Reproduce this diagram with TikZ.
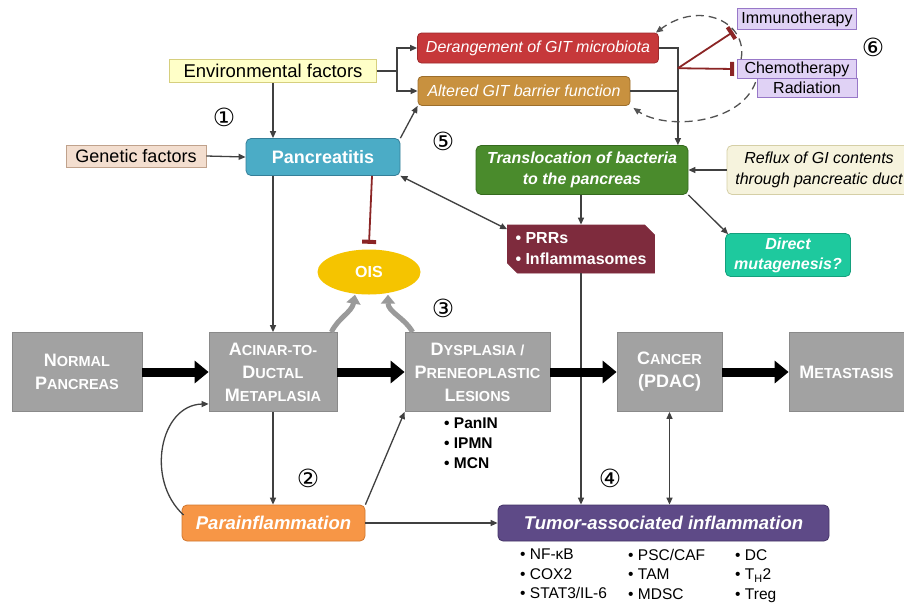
\documentclass[tikz,border=0pt]{standalone}
\usepackage{fontspec}
\setmainfont{Liberation Sans}
\newfontfamily\circfont{DejaVu Sans}
\usetikzlibrary{arrows.meta,shapes.misc,shapes.geometric,calc}

\definecolor{envfill}{HTML}{FFFFC8}
\definecolor{envedge}{HTML}{D6CF7E}
\definecolor{genfill}{HTML}{F3DECF}
\definecolor{genedge}{HTML}{C0A28C}
\definecolor{pancfill}{HTML}{4BACC6}
\definecolor{pancedge}{HTML}{357F99}
\definecolor{derfill}{HTML}{C6383A}
\definecolor{deredge}{HTML}{9E2A2C}
\definecolor{altfill}{HTML}{C8913F}
\definecolor{altedge}{HTML}{9C6E2C}
\definecolor{lavfill}{HTML}{E0D2F5}
\definecolor{lavedge}{HTML}{9878C8}
\definecolor{transfill}{HTML}{4A8B2C}
\definecolor{transedge}{HTML}{356A1E}
\definecolor{refluxfill}{HTML}{F6F3DD}
\definecolor{refluxedge}{HTML}{D5CFA6}
\definecolor{prrfill}{HTML}{7E2B3D}
\definecolor{directfill}{HTML}{1EC99E}
\definecolor{directedge}{HTML}{14A07D}
\definecolor{oisfill}{HTML}{F5C400}
\definecolor{stagefill}{HTML}{A2A2A2}
\definecolor{stageedge}{HTML}{8A8A8A}
\definecolor{parafill}{HTML}{F79646}
\definecolor{paraedge}{HTML}{D2772E}
\definecolor{tumorfill}{HTML}{5E4A87}
\definecolor{tumoredge}{HTML}{433366}
\definecolor{linegray}{HTML}{404040}
\definecolor{inhibred}{HTML}{8B2525}
\definecolor{oisgray}{HTML}{9A9A9A}

\newcommand{\fsc}[2]{#1{\fontsize{14.5}{23}\selectfont #2}}

\begin{document}
\begin{tikzpicture}[x=1pt,y=-1pt,
  >={Triangle[length=7pt,width=6pt]},
  box/.style={draw,line width=0.8pt,inner sep=0pt,align=center},
  stage/.style={box,fill=stagefill,draw=stageedge,text=white,minimum height=79pt,
    font=\fontsize{18}{23}\selectfont\bfseries},
  conn/.style={draw=linegray,line width=1.3pt,->},
  plain/.style={draw=linegray,line width=1.3pt},
  bigarrow/.style={line width=9pt,-{Triangle[length=14pt,width=22pt]}},
  oisarrow/.style={draw=oisgray,line width=5pt,-{Triangle[length=9pt,width=14pt]}},
  inhib/.style={draw=inhibred,line width=1.8pt,-{Bar[width=14pt,line width=4pt]}},
  dashcurve/.style={draw=linegray!90,line width=1.3pt,dash pattern=on 8pt off 5pt,->},
  num/.style={font=\circfont\fontsize{25}{25}\selectfont}]

\fill[white] (0,0) rectangle (904,606);
\useasboundingbox (0,0) rectangle (904,606);

\node[box,fill=envfill,draw=envedge,minimum width=207pt,minimum height=23pt,
  font=\fontsize{18.5}{20}\selectfont] (env) at (273,71) {Environmental factors};
\node[box,fill=genfill,draw=genedge,minimum width=140pt,minimum height=22pt,
  font=\fontsize{18}{20}\selectfont] (gen) at (136,156) {Genetic factors};
\node[box,rounded corners=5pt,fill=pancfill,draw=pancedge,text=white,minimum width=154pt,
  minimum height=37pt,font=\fontsize{18}{20}\selectfont\bfseries] (panc) at (323,157) {Pancreatitis};
\node[box,rounded corners=4pt,fill=derfill,draw=deredge,text=white,minimum width=241pt,
  minimum height=30pt,font=\fontsize{16}{18}\selectfont\itshape] (der) at (538,48) {Derangement of GIT microbiota};
\node[box,rounded corners=4pt,fill=altfill,draw=altedge,text=white,minimum width=212pt,
  minimum height=29pt,font=\fontsize{16}{18}\selectfont\itshape] (alt) at (524,91) {Altered GIT barrier function};
\node[box,fill=lavfill,draw=lavedge,minimum width=119pt,minimum height=21pt,
  font=\fontsize{16}{18}\selectfont] (immuno) at (797,19) {Immunotherapy};
\node[box,fill=lavfill,draw=lavedge,minimum width=100pt,minimum height=19pt,
  font=\fontsize{16}{18}\selectfont] (rad) at (807,88) {Radiation};
\node[box,fill=lavfill,draw=lavedge,minimum width=119pt,minimum height=19pt,
  font=\fontsize{16}{18}\selectfont] (chemo) at (797,69) {Chemotherapy};
\node[box,rounded corners=5pt,fill=transfill,draw=transedge,text=white,minimum width=212pt,
  minimum height=49pt,font=\fontsize{16}{21}\selectfont\bfseries\itshape] (transl) at (582,170)
  {Translocation of bacteria\\to the pancreas};
\node[box,rounded corners=5pt,fill=refluxfill,draw=refluxedge,minimum width=184pt,
  minimum height=49pt,font=\fontsize{16}{21}\selectfont\itshape] (reflux) at (819,170)
  {Reflux of GI contents\\through pancreatic duct};
\node[box,chamfered rectangle,chamfered rectangle corners={north east,south west},
  chamfered rectangle xsep=5pt,chamfered rectangle ysep=5pt,fill=prrfill,draw=prrfill,
  text=white,align=left,minimum width=147pt,minimum height=48pt,
  font=\fontsize{16}{21}\selectfont\bfseries] (prr) at (581,249) {• PRRs\\• Inflammasomes};
\node[box,rounded corners=5pt,fill=directfill,draw=directedge,text=white,minimum width=125pt,
  minimum height=43pt,font=\fontsize{16}{20}\selectfont\bfseries\itshape] (direct) at (788,255)
  {Direct\\mutagenesis?};
\node[ellipse,fill=oisfill,inner sep=0pt,minimum width=103pt,minimum height=45pt,text=white,
  font=\fontsize{16}{18}\selectfont\bfseries] (ois) at (369,272) {OIS};

\node[stage,minimum width=130pt] (normal) at (77,372) {\fsc{N}{ORMAL}\\\fsc{P}{ANCREAS}};
\node[stage,minimum width=128pt] (adm) at (273,372) {\fsc{A}{CINAR-TO-}\\\fsc{D}{UCTAL}\\\fsc{M}{ETAPLASIA}};
\node[stage,minimum width=145pt] (dys) at (477.5,372) {\fsc{D}{YSPLASIA /}\\\fsc{P}{RENEOPLASTIC}\\\fsc{L}{ESIONS}};
\node[stage,minimum width=105pt] (cancer) at (669.5,372) {\fsc{C}{ANCER}\\(PDAC)};
\node[stage,minimum width=115pt] (meta) at (846.5,372) {\fsc{M}{ETASTASIS}};

\node[box,rounded corners=5pt,fill=parafill,draw=paraedge,text=white,minimum width=183pt,
  minimum height=36pt,font=\fontsize{18.5}{20}\selectfont\bfseries\itshape] (parainf) at (273.5,523) {Parainflammation};
\node[box,rounded corners=5pt,fill=tumorfill,draw=tumoredge,text=white,minimum width=331pt,
  minimum height=36pt,font=\fontsize{18.5}{20}\selectfont\bfseries\itshape] (tumor) at (663.5,523) {Tumor-associated inflammation};

\node[anchor=north west,align=left,inner sep=0pt,font=\fontsize{15.5}{20}\selectfont\bfseries]
  (lesions) at (444,418) {• PanIN\\• IPMN\\• MCN};
\node[anchor=north west,align=left,inner sep=0pt,font=\fontsize{15.5}{19.5}\selectfont]
  (mediators) at (520,549) {• NF-κB\\• COX2\\• STAT3/IL-6};
\node[anchor=north west,align=left,inner sep=0pt,font=\fontsize{15.5}{19.5}\selectfont]
  (stroma) at (628,549) {• PSC/CAF\\• TAM\\• MDSC};
\node[anchor=north west,align=left,inner sep=0pt,font=\fontsize{15.5}{19.5}\selectfont]
  (immune) at (735,549) {• DC\\• T\textsubscript{H}2\\• Treg};

\node[num] (n1) at (224,117) {①};
\node[num] (n2) at (308,478) {②};
\node[num] (n3) at (443,308) {③};
\node[num] (n4) at (610,478) {④};
\node[num] (n5) at (443,141) {⑤};
\node[num] (n6) at (873,47) {⑥};

\draw[conn] (env.south) -- (env.south |- panc.north);
\draw[plain] (env.east) -- ++(20,0) coordinate (ej);
\draw[conn] (ej) |- (der.west);
\draw[conn] (ej) |- (alt.west);
\draw[conn] (gen.east) -- (panc.west);
\draw[conn] (panc.north east) -- (alt.south west);
\draw[conn,<->] (panc.south east) -- (prr.165);
\draw[inhib] ([xshift=49pt]panc.south) -- ([yshift=5.5pt]ois.north);
\draw[conn] (panc.south -| adm.north) -- (adm.north);

\draw[conn] (der.east) -- ++(19,0) coordinate (dj) -- (dj |- transl.north);
\draw[plain] (alt.east) -- (alt.east -| dj);
\coordinate (ij) at ($(dj)!0.47!(dj |- alt.east)$);
\draw[inhib] (ij) -- ($(immuno.south west)+(-4,2)$);
\draw[inhib] (ij) -- ([xshift=-3pt]chemo.west);
\draw[dashcurve] ($(chemo.north west)+(4,0)$) .. controls (748,22) and (700,0) .. ($(der.north east)+(-3,0)$);
\draw[dashcurve] ($(rad.north west)+(-1,4)$) .. controls (740,125) and (665,130) .. ($(alt.south east)+(3,2)$);

\draw[conn] (reflux.west) -- (transl.east);
\draw[conn] (transl.south -| prr.north) -- (prr.north);
\draw[conn] (transl.south east) -- ($(direct.north west)+(3,1)$);
\draw[conn] (prr.south) -- (prr.south |- tumor.north);
\draw[conn,<->] (cancer.south) -- (cancer.south |- tumor.north);

\draw[bigarrow] (normal.east) -- (adm.west);
\draw[bigarrow] (adm.east) -- (dys.west);
\draw[bigarrow] (dys.east) -- (cancer.west);
\draw[bigarrow] (cancer.east) -- (meta.west);

\draw[oisarrow] ($(adm.north east)+(-6,0)$) .. controls (338,318) and (352,312) .. ([xshift=-14pt]ois.south);
\draw[oisarrow] ($(dys.north west)+(8,0)$) .. controls (405,318) and (388,312) .. ([xshift=19pt]ois.south);

\draw[conn] (adm.south) -- (adm.south |- parainf.north);
\draw[conn] ($(parainf.west)+(2,-8)$) .. controls (145,480) and (160,405) .. ($(adm.south west)+(0,-8)$);
\draw[conn] (parainf.north east) -- (dys.south west);
\draw[conn] (parainf.east) -- (tumor.west);
\end{tikzpicture}
\end{document}
